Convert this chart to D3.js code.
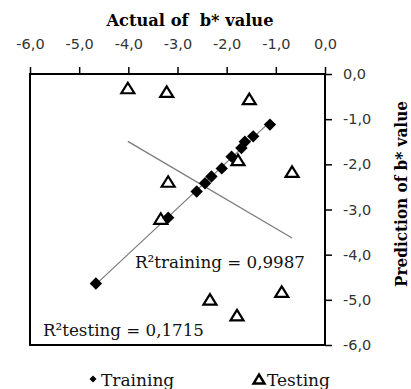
<!DOCTYPE html>
<html>
<head>
<meta charset="utf-8">
<script src="https://cdn.jsdelivr.net/npm/d3@7"></script>
<style>
  html, body { margin: 0; padding: 0; background: #fff; }
  svg { display: block; }
</style>
</head>
<body>
<svg id="chart" width="411" height="389"></svg>
<script>
// Actual vs predicted b* values
const trainingActual    = [-1.12, -1.46, -1.63, -1.70, -1.90, -2.10, -2.31, -2.44, -2.61, -3.19, -4.66];
const trainingPredicted = [-1.12, -1.38, -1.50, -1.64, -1.83, -2.09, -2.27, -2.42, -2.60, -3.18, -4.64];

const testingActual     = [-4.01, -3.22, -1.54, -1.77, -0.67, -3.19, -3.34, -2.34, -0.88, -1.79];
const testingPredicted  = [-0.31, -0.39, -0.55, -1.90, -2.16, -2.38, -3.20, -4.99, -4.82, -5.34];

const axisTicks      = [-6, -5, -4, -3, -2, -1, 0];
const axisTickLabels = ["-6,0", "-5,0", "-4,0", "-3,0", "-2,0", "-1,0", "0,0"];

const r2Training = "0,9987";
const r2Testing  = "0,1715";

const svg = d3.select("#chart");
const margin = { left: 30, right: 86, top: 74, bottom: 44 };
const W = 411, H = 389;

const x = d3.scaleLinear().domain([-6, 0]).range([margin.left, W - margin.right]);
const y = d3.scaleLinear().domain([-6, 0]).range([H - margin.bottom, margin.top]);

const sansTick = "'DejaVu Sans', Verdana, sans-serif";
const serif = "'DejaVu Serif', 'Liberation Serif', serif";

// least-squares fit drawn over the x-range of each series
function fit(xs, ys) {
  const n = xs.length;
  const mx = d3.mean(xs), my = d3.mean(ys);
  let sxy = 0, sxx = 0;
  for (let i = 0; i < n; i++) { sxy += (xs[i] - mx) * (ys[i] - my); sxx += (xs[i] - mx) ** 2; }
  const b = sxy / sxx, a = my - b * mx;
  const [x0, x1] = d3.extent(xs);
  return [[x0, a + b * x0], [x1, a + b * x1]];
}

const line = d3.line().x(d => x(d[0])).y(d => y(d[1]));

svg.append("path").datum(fit(trainingActual, trainingPredicted))
  .attr("d", line).attr("fill", "none").attr("stroke", "#7a7a7a").attr("stroke-width", 1.2);
svg.append("path").datum(fit(testingActual, testingPredicted))
  .attr("d", line).attr("fill", "none").attr("stroke", "#7a7a7a").attr("stroke-width", 1.2);

// marker shapes
const triW = 13, triH = 10.5;
const triPath = `M0,${-triH/2}L${triW/2},${triH/2}L${-triW/2},${triH/2}Z`;
const dia = 6.2;
const diaPath = `M0,${-dia}L${dia},0L0,${dia}L${-dia},0Z`;

const testing = testingActual.map((v, i) => [v, testingPredicted[i]]);
const training = trainingActual.map((v, i) => [v, trainingPredicted[i]]);

svg.append("g").selectAll("path").data(testing).join("path")
  .attr("d", triPath)
  .attr("transform", d => `translate(${x(d[0])},${y(d[1])})`)
  .attr("fill", "#fff").attr("stroke", "#000").attr("stroke-width", 2.2)
  .attr("stroke-linejoin", "miter");

svg.append("g").selectAll("path").data(training).join("path")
  .attr("d", diaPath)
  .attr("transform", d => `translate(${x(d[0])},${y(d[1])})`)
  .attr("fill", "#000");

// plot frame
svg.append("rect")
  .attr("x", x(-6)).attr("y", y(0))
  .attr("width", x(0) - x(-6)).attr("height", y(-6) - y(0))
  .attr("fill", "none").attr("stroke", "#000").attr("stroke-width", 2);

const fmt = d => axisTickLabels[axisTicks.indexOf(d)];

// top axis (actual)
const gx = svg.append("g").attr("transform", `translate(0,${y(0)})`)
  .call(d3.axisTop(x).tickValues(axisTicks).tickFormat(fmt).tickSize(7).tickPadding(18));
gx.select(".domain").remove();
gx.selectAll(".tick line").attr("stroke", "#000").attr("stroke-width", 1.5);
gx.selectAll(".tick text").attr("font-family", sansTick).attr("font-size", 14.5).attr("fill", "#333");

// right axis (prediction)
const gy = svg.append("g").attr("transform", `translate(${x(0)},0)`)
  .call(d3.axisRight(y).tickValues(axisTicks).tickFormat(fmt).tickSize(7).tickPadding(11));
gy.select(".domain").remove();
gy.selectAll(".tick line").attr("stroke", "#000").attr("stroke-width", 1.5);
gy.selectAll(".tick text").attr("font-family", sansTick).attr("font-size", 14.5).attr("fill", "#333");

// axis titles
svg.append("text").text("Actual of  b* value")
  .attr("x", 190).attr("y", 26).attr("text-anchor", "middle")
  .attr("font-family", serif).attr("font-weight", "bold").attr("font-size", 16)
  .attr("textLength", 167).attr("lengthAdjust", "spacingAndGlyphs")
  .style("white-space", "pre");

svg.append("text").text("Prediction of b* value")
  .attr("transform", `translate(407,194) rotate(-90)`).attr("text-anchor", "middle")
  .attr("font-family", serif).attr("font-weight", "bold").attr("font-size", 16)
  .attr("textLength", 186).attr("lengthAdjust", "spacingAndGlyphs");

// R² annotations
svg.append("text").text("R²training = " + r2Training)
  .attr("x", 135).attr("y", 268)
  .attr("font-family", serif).attr("font-size", 17).attr("fill", "#111")
  .attr("textLength", 170).attr("lengthAdjust", "spacingAndGlyphs");

svg.append("text").text("R²testing = " + r2Testing)
  .attr("x", 43).attr("y", 336)
  .attr("font-family", serif).attr("font-size", 17).attr("fill", "#111")
  .attr("textLength", 161).attr("lengthAdjust", "spacingAndGlyphs");

// legend
const legend = svg.append("g");
const legDia = 3.5;
legend.append("path")
  .attr("d", `M0,${-legDia}L${legDia},0L0,${legDia}L${-legDia},0Z`)
  .attr("transform", "translate(93,379)").attr("fill", "#000");
legend.append("text").text("Training").attr("x", 101).attr("y", 386)
  .attr("font-family", serif).attr("font-size", 17).attr("fill", "#111");
legend.append("path")
  .attr("d", "M0,-4.5L5.5,4.5L-5.5,4.5Z")
  .attr("transform", "translate(259,379)")
  .attr("fill", "#fff").attr("stroke", "#000").attr("stroke-width", 2.4);
legend.append("text").text("Testing").attr("x", 267).attr("y", 386)
  .attr("font-family", serif).attr("font-size", 17).attr("fill", "#111");
</script>
</body>
</html>
